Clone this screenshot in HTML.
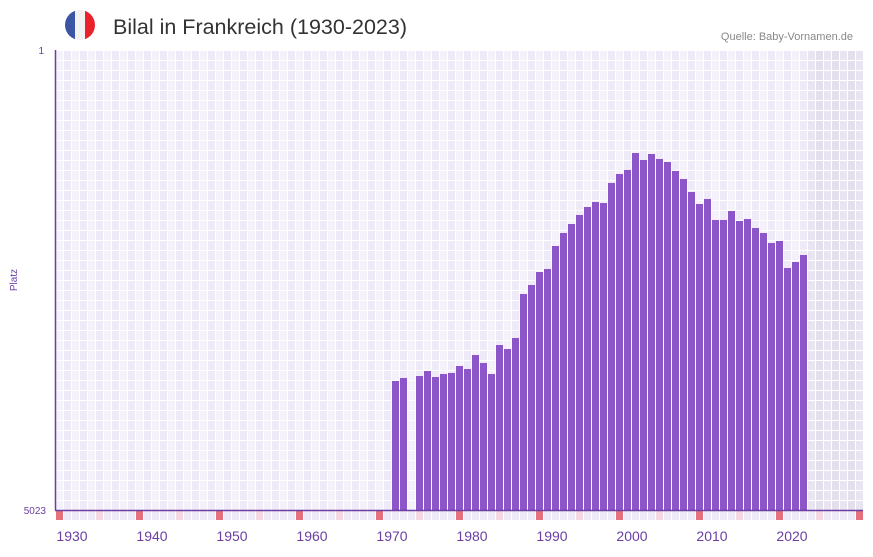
<!DOCTYPE html>
<html><head><meta charset="utf-8"><style>
body{margin:0;background:#fff;width:873px;height:552px;overflow:hidden;font-family:"Liberation Sans",sans-serif}
</style></head><body>
<svg id="s" width="873" height="552" xmlns="http://www.w3.org/2000/svg">
<defs><clipPath id="c"><circle cx="80" cy="25" r="15"/></clipPath></defs>
<g clip-path="url(#c)"><rect x="65" y="10" width="10" height="30" fill="#3a55a4"/><rect x="75" y="10" width="10" height="30" fill="#f2f2f2"/><rect x="85" y="10" width="10" height="30" fill="#e8212b"/></g>
<text x="113" y="34" font-size="21.5" fill="#333">Bilal in Frankreich (1930-2023)</text>
<text x="853" y="40" font-size="11" fill="#888" text-anchor="end">Quelle: Baby-Vornamen.de</text>
<text x="44" y="54" font-size="10" fill="#6a3fa0" text-anchor="end">1</text>
<text x="46" y="514" font-size="10" fill="#6a3fa0" text-anchor="end">5023</text>
<text x="17" y="280" font-size="10" fill="#6a3fa0" text-anchor="middle" transform="rotate(-90 17 280)">Platz</text>
<g id="g"></g>
<line x1="55.5" y1="50" x2="55.5" y2="510" stroke="#6a3fa0" stroke-width="1.5"/>
<line x1="55" y1="510.5" x2="863" y2="510.5" stroke="#6a3fa0" stroke-width="1.5"/>
</svg>
<script>
var g=document.getElementById('g'),h='';
for(var i=0;i<101;i++){var x=55+i*8,y0=1928+i,sh=y0>=2022;
for(var r=0;r<46;r++){var y=50+r*10;var c=sh?(i%2?'#e3dfec':'#e8e4f0'):(i%2?'#efeaf8':'#f4f1fb');h+='<rect x="'+(x+1)+'" y="'+(y+1)+'" width="7" height="9" fill="'+c+'"/>';}
var m=y0%10==8?'#e5717d':(y0%10==3?'#f4d7e0':'#efeaf8');h+='<rect x="'+(x+1)+'" y="511" width="7" height="9" fill="'+m+'"/>';
if(y0%10==0)h+='<text x="'+(x+1)+'" y="541" font-size="14" fill="#6a3fa0" text-anchor="middle">'+y0+'</text>';}
var d={1970:381,1971:378,1973:376,1974:371,1975:377,1976:374,1977:373,1978:366,1979:369,1980:355,1981:363,1982:374,1983:345,1984:349,1985:338,1986:294,1987:285,1988:272,1989:269,1990:246,1991:233,1992:224,1993:215,1994:207,1995:202,1996:203,1997:183,1998:174,1999:170,2000:153,2001:160,2002:154,2003:159,2004:162,2005:171,2006:179,2007:192,2008:204,2009:199,2010:220,2011:220,2012:211,2013:221,2014:219,2015:228,2016:233,2017:243,2018:241,2019:268,2020:262,2021:255};
for(var k in d){var x=55+(k-1928)*8;h+='<rect x="'+(x+1)+'" y="'+d[k]+'" width="7" height="'+(510-d[k])+'" fill="#8c55c8"/>';}
g.innerHTML=h;
</script>
</body></html>
